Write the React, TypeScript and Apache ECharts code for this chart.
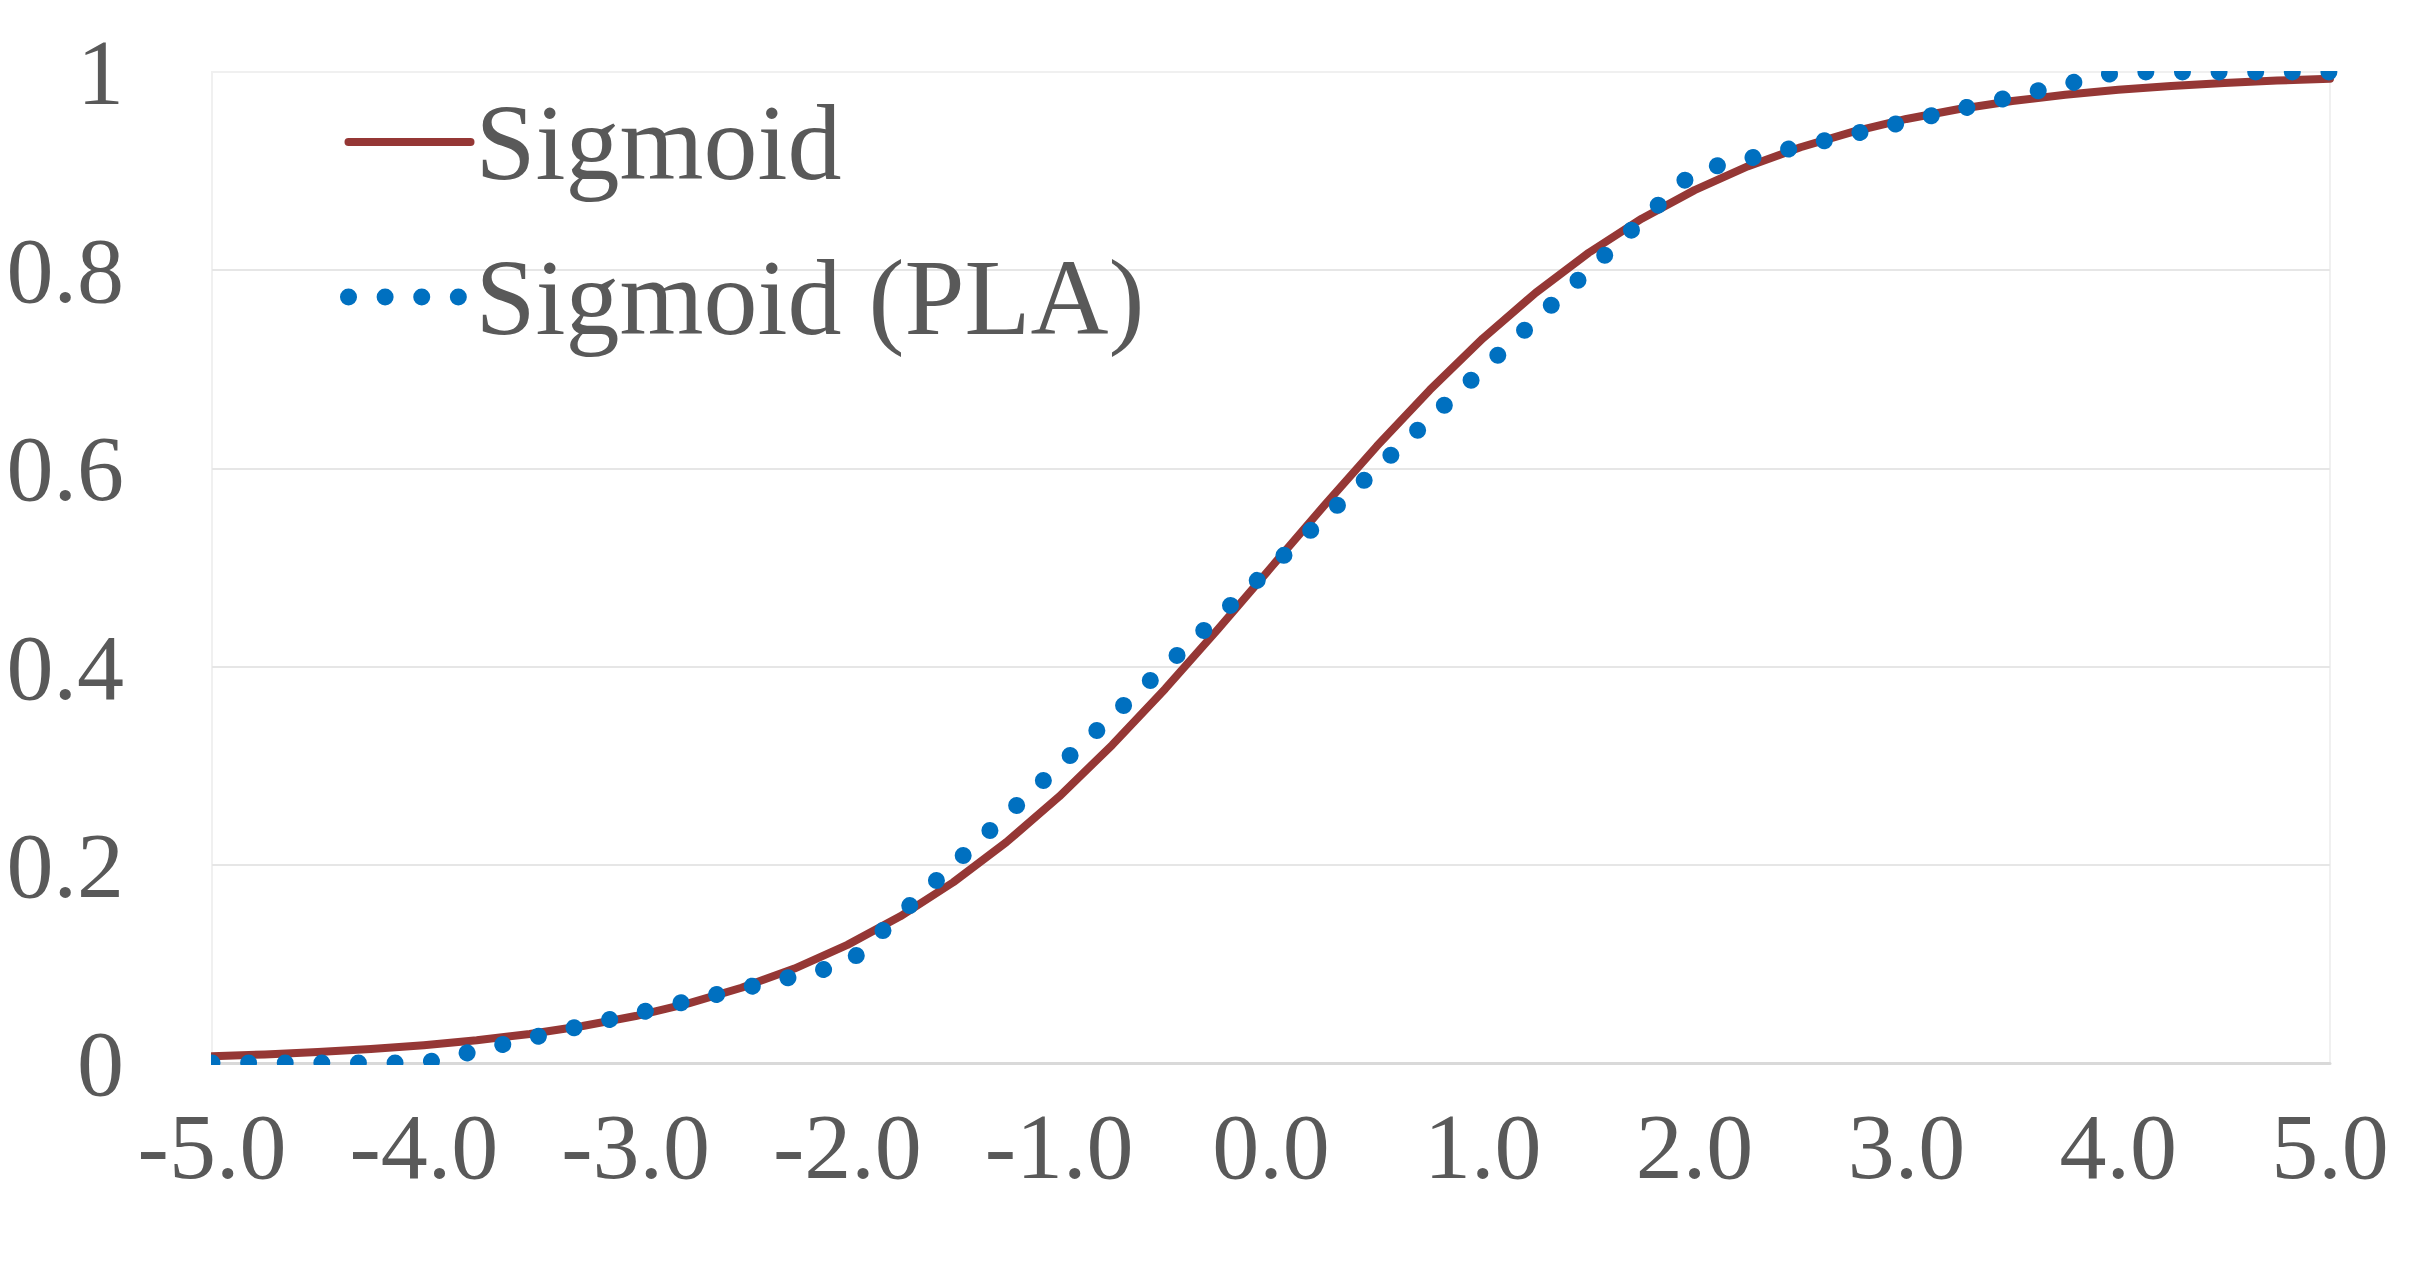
import React, { useEffect, useRef } from "react";
import * as echarts from "echarts";

// Sigmoid curve at 0.25 steps
const sigmoidX = [
  -5, -4.75, -4.5, -4.25, -4, -3.75, -3.5, -3.25, -3, -2.75, -2.5, -2.25, -2, -1.75, -1.5, -1.25, -1,
  -0.75, -0.5, -0.25, 0, 0.25, 0.5, 0.75, 1, 1.25, 1.5, 1.75, 2, 2.25, 2.5, 2.75, 3, 3.25, 3.5, 3.75,
  4, 4.25, 4.5, 4.75, 5,
];
const sigmoidY = [
  0.0067, 0.0086, 0.011, 0.0141, 0.018, 0.023, 0.0293, 0.0373, 0.0474, 0.0601, 0.0759, 0.0953, 0.1192,
  0.148, 0.1824, 0.2227, 0.2689, 0.3208, 0.3775, 0.4378, 0.5, 0.5622, 0.6225, 0.6792, 0.7311, 0.7773,
  0.8176, 0.852, 0.8808, 0.9047, 0.9241, 0.9399, 0.9526, 0.9627, 0.9707, 0.977, 0.982, 0.9859, 0.989,
  0.9914, 0.9933,
];

// Piecewise linear approximation: break points
const plaX = [-5, -4, -2, 2, 4, 5];
const plaY = [0, 0, 0.1, 0.9, 1, 1];

const seriesNames = ["Sigmoid", "Sigmoid (PLA)"];
const xMin = -5;
const xMax = 5;
const xStep = 1;
const yMin = 0;
const yMax = 1;
const yStep = 0.2;

export default function App() {
  const ref = useRef<HTMLDivElement>(null);

  useEffect(() => {
    document.body.style.margin = "0";
    const chart = echarts.init(ref.current!, null, { renderer: "svg" });
    const font = "'Liberation Serif', 'Times New Roman', serif";
    const textColor = "#595959";
    const red = "#953735";
    const blue = "#0070C0";

    chart.setOption({
      animation: false,
      backgroundColor: "#ffffff",
      grid: {
        left: 212,
        right: 90,
        top: 72,
        bottom: 215,
        show: true,
        borderColor: "#f0f0f0",
        borderWidth: 2,
        backgroundColor: "transparent",
        containLabel: false,
        outerBoundsMode: "none",
      },
      legend: {
        show: true,
        orient: "vertical",
        left: 340,
        top: 88,
        padding: 0,
        itemWidth: 122,
        itemHeight: 108,
        itemGap: 47,
        selectedMode: false,
        itemStyle: { opacity: 0 },
        lineStyle: { width: "inherit" },
        textStyle: {
          fontFamily: font,
          fontSize: 108,
          color: textColor,
          lineHeight: 108,
          padding: [0, 0, 0, 0],
        },
        data: seriesNames,
      },
      xAxis: {
        type: "value",
        min: xMin,
        max: xMax,
        interval: xStep,
        axisLine: { show: true, onZero: false, lineStyle: { color: "#d9d9d9", width: 3 } },
        axisTick: { show: false },
        splitLine: { show: false },
        axisLabel: {
          formatter: (v: number) => v.toFixed(1),
          fontFamily: font,
          fontSize: 94,
          color: textColor,
          margin: 36,
          showMinLabel: true,
          showMaxLabel: true,
        },
      },
      yAxis: {
        type: "value",
        min: yMin,
        max: yMax,
        interval: yStep,
        axisLine: { show: false },
        axisTick: { show: false },
        splitLine: { show: true, showMaxLine: false, lineStyle: { color: "#e6e6e6", width: 2 } },
        axisLabel: {
          fontFamily: font,
          fontSize: 94,
          color: textColor,
          margin: 88,
        },
      },
      series: [
        {
          name: seriesNames[0],
          type: "line",
          data: sigmoidX.map((x, i) => [x, sigmoidY[i]]),
          symbol: "none",
          showSymbol: false,
          smooth: false,
          itemStyle: { color: red },
          lineStyle: { color: red, width: 8, cap: "round", join: "round" },
          z: 2,
        },
        {
          name: seriesNames[1],
          type: "line",
          data: plaX.map((x, i) => [x, plaY[i]]),
          symbol: "none",
          showSymbol: false,
          itemStyle: { color: blue },
          lineStyle: { color: blue, width: 17, type: [0.01, 36.6], cap: "round", join: "round" },
          z: 3,
        },
      ],
      graphic: [
        { type: "rect", silent: true, z: 100, shape: { x: 195, y: 50, width: 2165, height: 21 }, style: { fill: "#ffffff" } },
        { type: "rect", silent: true, z: 100, shape: { x: 195, y: 1065, width: 2165, height: 16 }, style: { fill: "#ffffff" } },
        { type: "rect", silent: true, z: 100, shape: { x: 190, y: 1030, width: 21, height: 40 }, style: { fill: "#ffffff" } },
      ],
    });

    return () => chart.dispose();
  }, []);

  return <div ref={ref} style={{ width: 2420, height: 1278 }} />;
}
